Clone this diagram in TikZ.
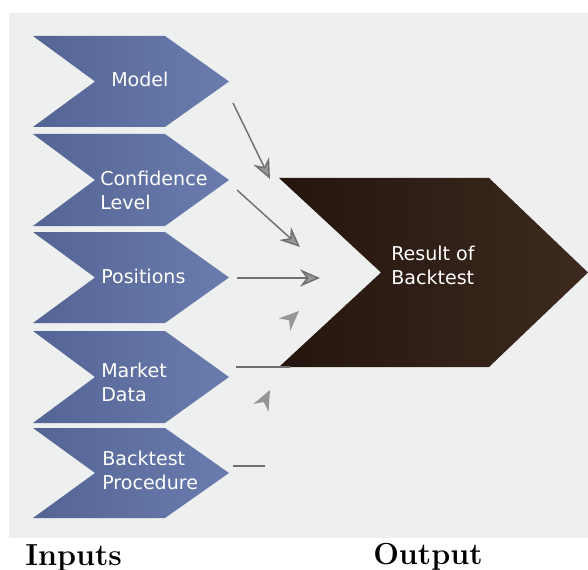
\documentclass[tikz,border=0pt]{standalone}
\usepackage{fontspec}
\newfontfamily\chevfont{DejaVu Sans}
\usetikzlibrary{arrows.meta}

\definecolor{panelgray}{RGB}{238,240,239}
\definecolor{chevblueL}{RGB}{84,100,148}
\definecolor{chevblueR}{RGB}{106,124,174}
\definecolor{chevbrownL}{RGB}{36,21,14}
\definecolor{chevbrownR}{RGB}{61,42,31}
\definecolor{feedgray}{RGB}{112,112,112}
\definecolor{headgray}{RGB}{150,150,150}

\begin{document}
\begin{tikzpicture}[x=0.75pt,y=0.75pt,yscale=-1,xscale=1,
  inchev/.style={left color=chevblueL, right color=chevblueR},
  outchev/.style={left color=chevbrownL, right color=chevbrownR},
  feed/.style={draw=feedgray, line width=1.1pt},
  feedarrow/.style={feed, -{Stealth[length=15pt, width=13pt, inset=5pt, fill=headgray]}},
  loosehead/.style={fill=headgray},
  chevtext/.style={anchor=west, inner sep=0pt, align=left, text=white,
    font=\chevfont\fontsize{14.3}{18}\selectfont},
  captext/.style={anchor=base west, inner sep=0pt,
    font=\bfseries\fontsize{22.8}{27}\selectfont}]
\useasboundingbox (0,0) rectangle (588,570);

% Panel
\fill[panelgray] (9,13) rectangle (588,538);

% Input chevrons
\shade[inchev] (33,36) -- (165,36) -- (229,81.5) -- (165,127) -- (33,127) -- (95,81.5) -- cycle;
\shade[inchev] (33,134) -- (165,134) -- (229,180) -- (165,226) -- (33,226) -- (95,180) -- cycle;
\shade[inchev] (33,232) -- (165,232) -- (229,277.5) -- (165,323) -- (33,323) -- (95,277.5) -- cycle;
\shade[inchev] (33,331) -- (165,331) -- (229,377) -- (165,423) -- (33,423) -- (95,377) -- cycle;
\shade[inchev] (33,428) -- (165,428) -- (229,473) -- (165,518) -- (33,518) -- (95,473) -- cycle;

% Output chevron
\shade[outchev] (279,178) -- (489,178) -- (588,272.5) -- (489,367) -- (279,367) -- (381,272.5) -- cycle;

% Arrow ends
\coordinate (model-out) at (233,103);
\coordinate (model-in) at (270,179);
\coordinate (conf-out) at (237,190);
\coordinate (conf-in) at (300,247);
\coordinate (pos-out) at (237,278);
\coordinate (pos-in) at (320,278);
\coordinate (mkt-out) at (236,367);
\coordinate (mkt-end) at (290,367);
\coordinate (proc-out) at (233,466);
\coordinate (proc-end) at (265,466);

%Straight Lines
\draw[feedarrow] (model-out) -- (model-in);
\draw[feedarrow] (conf-out) -- (conf-in);
\draw[feedarrow] (pos-out) -- (pos-in);
\draw[feed] (mkt-out) -- (mkt-end);
\draw[feed] (proc-out) -- (proc-end);

% Loose arrow heads
\fill[loosehead, shift={(299,311)}, rotate=137] (0,0) -- (20,-8.5) -- (13.5,0) -- (20,8.5) -- cycle;
\fill[loosehead, shift={(270,390)}, rotate=117] (0,0) -- (20,-8.5) -- (13.5,0) -- (20,8.5) -- cycle;

% Text Node
\node[chevtext] (model) at (111,79) {Model};
\node[chevtext] (conf) at (100,190) {Confidence\\Level};
\node[chevtext] (pos) at (101,276) {Positions};
\node[chevtext] (mkt) at (101,382) {Market\\Data};
\node[chevtext] (proc) at (102,470) {Backtest\\Procedure};
\node[chevtext] (result) at (391,265.5) {Result of\\Backtest};

% Captions
\node[captext] (inputs) at (25,565) {Inputs};
\node[captext] (output) at (373,564) {Output};

\end{tikzpicture}
\end{document}
